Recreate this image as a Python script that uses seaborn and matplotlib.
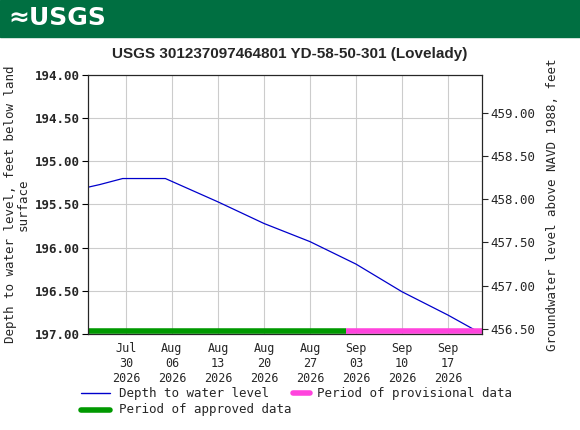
import matplotlib
matplotlib.use("Agg")
import matplotlib.pyplot as plt
import seaborn as sns
import pandas as pd
import numpy as np
from matplotlib.patches import Rectangle

dates = ["2026-07-24 06:00", "2026-07-26 00:00", "2026-07-29 12:00", "2026-08-05 00:00", "2026-08-13 00:00",
         "2026-08-20 00:00", "2026-08-27 00:00", "2026-09-03 00:00", "2026-09-10 00:00", "2026-09-17 00:00", "2026-09-21 12:00"]
depth = [195.30, 195.27, 195.20, 195.20, 195.47, 195.72, 195.93, 196.19, 196.51, 196.78, 196.97]
approved_span = ["2026-07-24 06:00", "2026-09-01 12:00"]
provisional_span = ["2026-09-01 12:00", "2026-09-22 04:00"]
tick_dates = ["2026-07-30", "2026-08-06", "2026-08-13", "2026-08-20", "2026-08-27", "2026-09-03", "2026-09-10", "2026-09-17"]
tick_labels = ["Jul\n30\n2026", "Aug\n06\n2026", "Aug\n13\n2026", "Aug\n20\n2026", "Aug\n27\n2026", "Sep\n03\n2026", "Sep\n10\n2026", "Sep\n17\n2026"]
datum = 653.44

sns.set_style("white")
plt.rcParams['font.family'] = ['DejaVu Sans Mono']
df = pd.DataFrame({"date": pd.to_datetime(dates, format="mixed"), "depth": depth})

fig = plt.figure(figsize=(5.8, 4.3), dpi=100)
ax = fig.add_axes([0.152, 0.223, 0.679, 0.603])
sns.lineplot(data=df, x="date", y="depth", ax=ax, color="#0000cc", lw=0.9)
ax.plot(pd.to_datetime(approved_span), [196.965]*2, color="#009900", lw=4, solid_capstyle="butt")
ax.plot(pd.to_datetime(provisional_span), [196.965]*2, color="#ff44dd", lw=4, solid_capstyle="butt")
ax.set_xlim(pd.Timestamp("2026-07-24 06:00"), pd.Timestamp("2026-09-22 04:00"))
ax.set_ylim(197.0, 194.0)
ax.set_yticks(np.arange(194.0, 197.01, 0.5))
ax.set_yticklabels([f"{v:.2f}" for v in np.arange(194.0, 197.01, 0.5)], fontsize=9, fontweight="bold")
ax.set_xticks(pd.to_datetime(tick_dates))
ax.set_xticklabels(tick_labels, fontsize=8.5)
ax.grid(True, color="#cccccc", lw=0.8)
ax.set_xlabel("")
ax.set_ylabel("Depth to water level, feet below land\nsurface", fontsize=9, linespacing=0.95)
for s in ax.spines.values():
    s.set_color("black"); s.set_linewidth(0.8)
ax.tick_params(length=4, direction="out", color="black", pad=2)

ax2 = ax.twinx()
ax2.set_ylim(datum - 197.0, datum - 194.0)
r = np.arange(456.5, 459.01, 0.5)
ax2.set_yticks(r)
ax2.set_yticklabels([f"{v:.2f}" for v in r], fontsize=9)
ax2.set_ylabel("Groundwater level above NAVD 1988, feet", fontsize=9, labelpad=8)
ax2.tick_params(length=4, direction="out", pad=2)

fig.patches.append(Rectangle((0, 0.915), 1, 0.085, transform=fig.transFigure, color="#006f41"))
fig.text(0.015, 0.957, "≈USGS", color="white", fontsize=18, fontweight="bold",
         family="DejaVu Sans", va="center")
fig.text(0.50, 0.875, "USGS 301237097464801 YD-58-50-301 (Lovelady)", ha="center", va="center",
         fontsize=11, fontweight="bold", family=["Liberation Sans", "DejaVu Sans"])

fig.lines.append(plt.Line2D([0.14, 0.19], [0.085, 0.085], transform=fig.transFigure, color="#0000cc", lw=1))
fig.text(0.205, 0.085, "Depth to water level", va="center", fontsize=9)
fig.lines.append(plt.Line2D([0.505, 0.535], [0.085, 0.085], transform=fig.transFigure, color="#ff44dd", lw=4))
fig.text(0.547, 0.085, "Period of provisional data", va="center", fontsize=9)
fig.lines.append(plt.Line2D([0.14, 0.19], [0.047, 0.047], transform=fig.transFigure, color="#009900", lw=4))
fig.text(0.205, 0.047, "Period of approved data", va="center", fontsize=9)

fig.savefig("out.png", dpi=100)
